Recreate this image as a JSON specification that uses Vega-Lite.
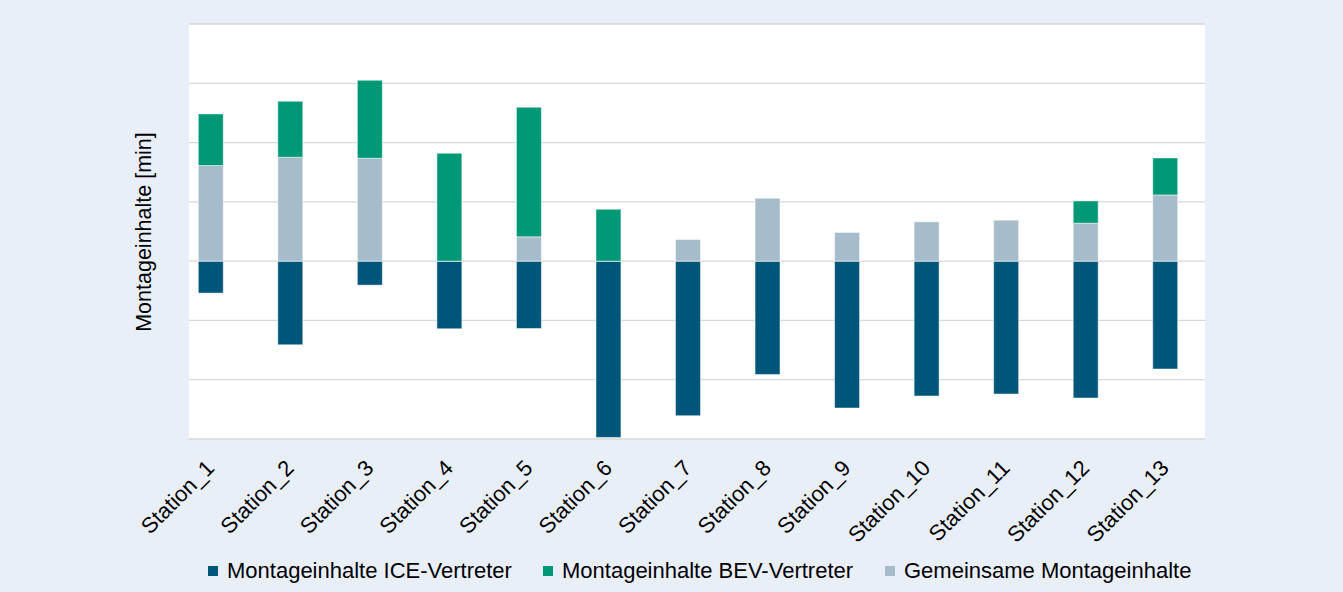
{
  "$schema": "https://vega.github.io/schema/vega-lite/v6.json",
  "width": 1016,
  "height": 415,
  "autosize": {"type": "none"},
  "padding": {"left": 189, "top": 24, "right": 138, "bottom": 153},
  "background": "#e9eff8",
  "datasets": {
    "grid": [{"v": -3}, {"v": -2}, {"v": -1}, {"v": 0}, {"v": 1}, {"v": 2}, {"v": 3}, {"v": 4}],
    "werte": [
      {"station": "Station_1", "typ": "Montageinhalte ICE-Vertreter", "wert": -0.539, "ord": 0},
      {"station": "Station_1", "typ": "Gemeinsame Montageinhalte", "wert": 1.613, "ord": 1},
      {"station": "Station_1", "typ": "Montageinhalte BEV-Vertreter", "wert": 0.871, "ord": 2},
      {"station": "Station_2", "typ": "Montageinhalte ICE-Vertreter", "wert": -1.411, "ord": 0},
      {"station": "Station_2", "typ": "Gemeinsame Montageinhalte", "wert": 1.753, "ord": 1},
      {"station": "Station_2", "typ": "Montageinhalte BEV-Vertreter", "wert": 0.944, "ord": 2},
      {"station": "Station_3", "typ": "Montageinhalte ICE-Vertreter", "wert": -0.405, "ord": 0},
      {"station": "Station_3", "typ": "Gemeinsame Montageinhalte", "wert": 1.736, "ord": 1},
      {"station": "Station_3", "typ": "Montageinhalte BEV-Vertreter", "wert": 1.315, "ord": 2},
      {"station": "Station_4", "typ": "Montageinhalte ICE-Vertreter", "wert": -1.141, "ord": 0},
      {"station": "Station_4", "typ": "Gemeinsame Montageinhalte", "wert": 0, "ord": 1},
      {"station": "Station_4", "typ": "Montageinhalte BEV-Vertreter", "wert": 1.82, "ord": 2},
      {"station": "Station_5", "typ": "Montageinhalte ICE-Vertreter", "wert": -1.136, "ord": 0},
      {"station": "Station_5", "typ": "Gemeinsame Montageinhalte", "wert": 0.41, "ord": 1},
      {"station": "Station_5", "typ": "Montageinhalte BEV-Vertreter", "wert": 2.186, "ord": 2},
      {"station": "Station_6", "typ": "Montageinhalte ICE-Vertreter", "wert": -2.973, "ord": 0},
      {"station": "Station_6", "typ": "Gemeinsame Montageinhalte", "wert": 0, "ord": 1},
      {"station": "Station_6", "typ": "Montageinhalte BEV-Vertreter", "wert": 0.876, "ord": 2},
      {"station": "Station_7", "typ": "Montageinhalte ICE-Vertreter", "wert": -2.607, "ord": 0},
      {"station": "Station_7", "typ": "Gemeinsame Montageinhalte", "wert": 0.371, "ord": 1},
      {"station": "Station_7", "typ": "Montageinhalte BEV-Vertreter", "wert": 0, "ord": 2},
      {"station": "Station_8", "typ": "Montageinhalte ICE-Vertreter", "wert": -1.911, "ord": 0},
      {"station": "Station_8", "typ": "Gemeinsame Montageinhalte", "wert": 1.067, "ord": 1},
      {"station": "Station_8", "typ": "Montageinhalte BEV-Vertreter", "wert": 0, "ord": 2},
      {"station": "Station_9", "typ": "Montageinhalte ICE-Vertreter", "wert": -2.478, "ord": 0},
      {"station": "Station_9", "typ": "Gemeinsame Montageinhalte", "wert": 0.489, "ord": 1},
      {"station": "Station_9", "typ": "Montageinhalte BEV-Vertreter", "wert": 0, "ord": 2},
      {"station": "Station_10", "typ": "Montageinhalte ICE-Vertreter", "wert": -2.275, "ord": 0},
      {"station": "Station_10", "typ": "Gemeinsame Montageinhalte", "wert": 0.667, "ord": 1},
      {"station": "Station_10", "typ": "Montageinhalte BEV-Vertreter", "wert": 0, "ord": 2},
      {"station": "Station_11", "typ": "Montageinhalte ICE-Vertreter", "wert": -2.242, "ord": 0},
      {"station": "Station_11", "typ": "Gemeinsame Montageinhalte", "wert": 0.696, "ord": 1},
      {"station": "Station_11", "typ": "Montageinhalte BEV-Vertreter", "wert": 0, "ord": 2},
      {"station": "Station_12", "typ": "Montageinhalte ICE-Vertreter", "wert": -2.309, "ord": 0},
      {"station": "Station_12", "typ": "Gemeinsame Montageinhalte", "wert": 0.64, "ord": 1},
      {"station": "Station_12", "typ": "Montageinhalte BEV-Vertreter", "wert": 0.376, "ord": 2},
      {"station": "Station_13", "typ": "Montageinhalte ICE-Vertreter", "wert": -1.82, "ord": 0},
      {"station": "Station_13", "typ": "Gemeinsame Montageinhalte", "wert": 1.117, "ord": 1},
      {"station": "Station_13", "typ": "Montageinhalte BEV-Vertreter", "wert": 0.624, "ord": 2}
    ]
  },
  "layer": [
    {
      "data": {"name": "grid"},
      "mark": {"type": "rule", "color": "#d9d9d9", "strokeWidth": 1.3},
      "encoding": {
        "y": {
          "field": "v",
          "type": "quantitative",
          "scale": {"domain": [-3, 4], "nice": false},
          "axis": {
            "title": "Montageinhalte [min]",
            "titleFontSize": 21.5,
            "titleFont": "Liberation Sans",
            "titleFontWeight": "normal",
            "titleColor": "#000000",
            "titlePadding": 34,
            "labels": false,
            "ticks": false,
            "domain": false,
            "grid": false
          }
        }
      }
    },
    {
      "data": {"name": "werte"},
      "mark": {"type": "bar", "stroke": "#ffffff", "strokeWidth": 0.7, "strokeOpacity": 0.7},
      "encoding": {
        "x": {
          "field": "station",
          "type": "nominal",
          "sort": null,
          "scale": {"range": [-18, 1016], "paddingInner": 0.686, "paddingOuter": 0.343},
          "axis": {
            "title": null,
            "labelAngle": -45,
            "labelFontSize": 22,
            "labelColor": "#000000",
            "labelFont": "Liberation Sans",
            "labelBaseline": "middle",
            "labelAlign": "right",
            "labelPadding": 25,
            "ticks": false,
            "domain": false,
            "grid": false
          }
        },
        "y": {
          "field": "wert",
          "type": "quantitative",
          "stack": "zero",
          "title": "Montageinhalte [min]"
        },
        "color": {
          "field": "typ",
          "type": "nominal",
          "scale": {
            "domain": ["Montageinhalte ICE-Vertreter", "Montageinhalte BEV-Vertreter", "Gemeinsame Montageinhalte"],
            "range": ["#00567a", "#009877", "#a7bccb"]
          },
          "legend": {
            "title": null,
            "orient": "bottom",
            "direction": "horizontal",
            "symbolType": "square",
            "symbolSize": 100,
            "symbolStrokeWidth": 0,
            "labelFontSize": 22,
            "labelFont": "Liberation Sans",
            "labelColor": "#000000",
            "labelLimit": 400,
            "labelOffset": 3,
            "columnPadding": 25,
            "offset": 13
          }
        },
        "order": {"field": "ord", "type": "quantitative"}
      }
    }
  ],
  "config": {
    "view": {"fill": "#ffffff", "stroke": null},
    "legend": {"layout": {"bottom": {"anchor": "middle"}}}
  }
}
